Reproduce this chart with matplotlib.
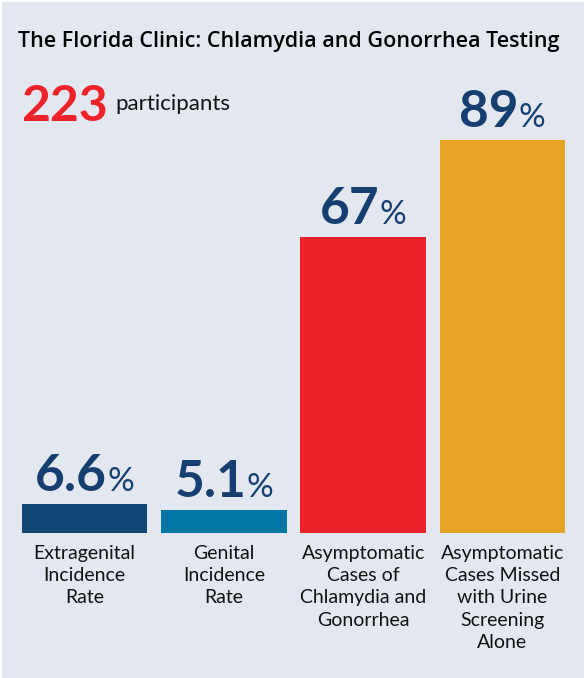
import matplotlib
matplotlib.use("Agg")
import matplotlib.pyplot as plt
from matplotlib.patches import Rectangle

# chart data
title = "The Florida Clinic: Chlamydia and Gonorrhea Testing"
participants = "223"
categories = ["Extragenital\nIncidence\nRate",
              "Genital\nIncidence\nRate",
              "Asymptomatic\nCases of\nChlamydia and\nGonorrhea",
              "Asymptomatic\nCases Missed\nwith Urine\nScreening\nAlone"]
values = [6.6, 5.1, 67, 89]
value_labels = ["6.6", "5.1", "67", "89"]
bar_colors = ["#124677", "#0077a2", "#ed2129", "#e9a326"]

BG = "#e3e8f0"
NAVY = "#153f70"
RED = "#ee2229"
FONT = ["Lato", "DejaVu Sans"]

W, H = 584, 678
fig = plt.figure(figsize=(W / 100, H / 100), dpi=100, facecolor="white")
fig.patches.append(Rectangle((2 / W, 0), 1, 1 - 2 / H, transform=fig.transFigure,
                             color=BG, zorder=-10))

ax = fig.add_axes([15 / W, 145 / H, 557 / W, 442 / H])
ax.set_facecolor("none")
ax.bar(range(len(values)), values, width=0.9, color=bar_colors)
ax.set_xlim(-0.5, 3.5)
ax.set_ylim(0, 100)
ax.axis("off")

renderer = fig.canvas.get_renderer()

# value labels: big number + smaller percent sign, centered over each bar
for i, (v, s) in enumerate(zip(values, value_labels)):
    t1 = ax.annotate(s, (i, v), xytext=(0, 13), textcoords="offset pixels",
                     ha="center", va="baseline", fontsize=37, fontweight="bold",
                     color=NAVY, family=FONT)
    t2 = ax.annotate("%", (i, v), xytext=(0, 13), textcoords="offset pixels",
                     ha="center", va="baseline", fontsize=24, fontweight="normal",
                     color=NAVY, family=FONT)
    w1 = t1.get_window_extent(renderer).width
    w2 = t2.get_window_extent(renderer).width
    gap = 0
    total = w1 + w2 + gap
    t1.xyann = (-total / 2 + w1 / 2, 13)
    t2.xyann = (-total / 2 + w1 + gap + w2 / 2, 13)

# category labels under the bars
for i, c in enumerate(categories):
    ax.annotate(c, (i, 0), xytext=(0, -12), textcoords="offset pixels",
                ha="center", va="top", fontsize=14, color="#111111",
                family=FONT, linespacing=1.37)

fig.text(18 / W, 1 - 47 / H, title, fontsize=15.5, fontweight="semibold",
         va="baseline", family=["Open Sans", "DejaVu Sans"], color="#000000")

t = fig.text(21 / W, 1 - 121 / H, participants, fontsize=36, fontweight="bold",
             va="baseline", color=RED, family=FONT)
x_end = t.get_window_extent(renderer).x1
fig.text((x_end + 8) / W, 1 - 110 / H, "participants", fontsize=16,
         va="baseline", color="#111111", family=FONT)

fig.savefig("out.png", dpi=100, facecolor=fig.get_facecolor())
